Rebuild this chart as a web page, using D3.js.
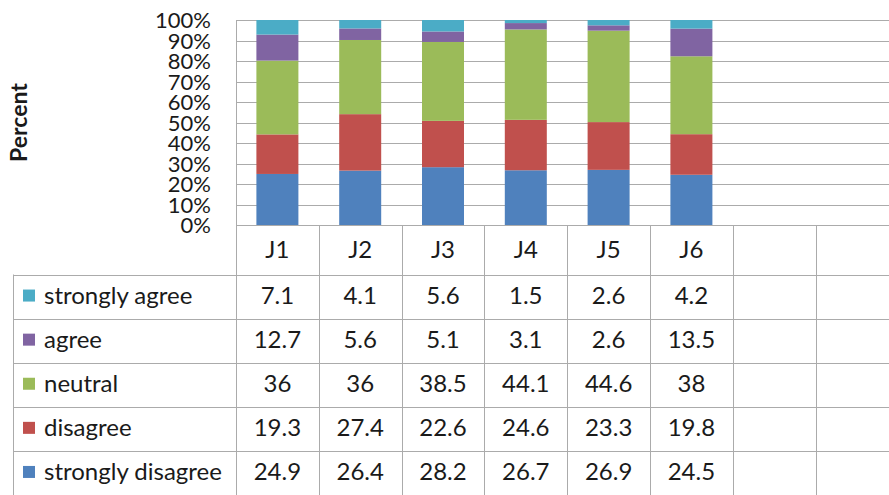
<!DOCTYPE html>
<html>
<head>
<meta charset="utf-8">
<script src="https://cdn.jsdelivr.net/npm/d3@7"></script>
<style>
  body { margin: 0; background: #fff; }
  svg { display: block; font-family: Lato, "Open Sans", sans-serif; }
</style>
</head>
<body>
<svg width="889" height="495"></svg>
<script>
const categories = ['J1', 'J2', 'J3', 'J4', 'J5', 'J6'];
const blankColumns = ['_7', '_8'];            // empty columns at the right
const seriesNames = ['strongly disagree', 'disagree', 'neutral', 'agree', 'strongly agree'];
const stronglyDisagree = [24.9, 26.4, 28.2, 26.7, 26.9, 24.5];
const disagree         = [19.3, 27.4, 22.6, 24.6, 23.3, 19.8];
const neutral          = [36, 36, 38.5, 44.1, 44.6, 38];
const agree            = [12.7, 5.6, 5.1, 3.1, 2.6, 13.5];
const stronglyAgree    = [7.1, 4.1, 5.6, 1.5, 2.6, 4.2];
const yTicks = [0, 0.1, 0.2, 0.3, 0.4, 0.5, 0.6, 0.7, 0.8, 0.9, 1];
const colors = ['#4F81BD', '#C0504D', '#9BBB59', '#8064A2', '#4BACC6'];

const seriesValues = [stronglyDisagree, disagree, neutral, agree, stronglyAgree];
const rows = categories.map((c, i) => {
  const r = { cat: c };
  seriesNames.forEach((s, k) => r[s] = seriesValues[k][i]);
  return r;
});

const svg = d3.select('svg');
const width = +svg.attr('width');
const height = +svg.attr('height');

const plot = { left: 236, top: 20, bottom: 225 };
const tableLeft = 13;
const headerBottom = 274.5;
const rowH = 44.1;
const gridColor = '#ababab';
const textColor = '#1a1a1a';

const x = d3.scaleBand()
  .domain(categories.concat(blankColumns))
  .range([plot.left, plot.left + 8 * 82.8]);

const y = d3.scaleLinear().domain([0, 1]).range([plot.bottom, plot.top]);

const stack = d3.stack().keys(seriesNames).offset(d3.stackOffsetExpand);
const stacked = stack(rows);

// gridlines
svg.append('g')
  .selectAll('line')
  .data(yTicks)
  .join('line')
    .attr('x1', plot.left).attr('x2', width)
    .attr('y1', d => Math.round(y(d)) + 0.5).attr('y2', d => Math.round(y(d)) + 0.5)
    .attr('stroke', gridColor);

// y axis labels
const yAxis = d3.axisLeft(y).tickValues(yTicks).tickFormat(d3.format('.0%')).tickSize(0).tickPadding(0);
const yAxisG = svg.append('g').attr('transform', `translate(${plot.left - 25},0)`).call(yAxis);
yAxisG.select('.domain').remove();
yAxisG.selectAll('text')
  .attr('font-family', 'Lato, sans-serif')
  .attr('font-size', 22)
  .attr('fill', textColor)
  .attr('dy', '0.36em');

svg.append('text')
  .attr('transform', `translate(27,${(plot.top + plot.bottom) / 2}) rotate(-90)`)
  .attr('text-anchor', 'middle')
  .attr('font-size', 23)
  .attr('font-weight', 'bold')
  .attr('fill', textColor)
  .text('Percent');

// bars
const barW = 42;
svg.append('g')
  .selectAll('g')
  .data(stacked)
  .join('g')
    .attr('fill', (d, i) => colors[i])
  .selectAll('rect')
  .data(d => d)
  .join('rect')
    .attr('x', d => x(d.data.cat) + (x.bandwidth() - barW) / 2)
    .attr('width', barW)
    .attr('y', d => y(d[1]))
    .attr('height', d => y(d[0]) - y(d[1]));

// table
const tbl = svg.append('g').attr('stroke', gridColor).attr('fill', 'none');
// left axis line through the table
tbl.append('line')
  .attr('x1', plot.left + 0.5).attr('x2', plot.left + 0.5)
  .attr('y1', plot.top).attr('y2', height);
// column separators
tbl.selectAll('.col')
  .data(x.domain().slice(1).concat(['end']))
  .join('line')
    .attr('class', 'col')
    .attr('x1', (d, i) => Math.round(plot.left + (i + 1) * x.step()) + 0.5)
    .attr('x2', (d, i) => Math.round(plot.left + (i + 1) * x.step()) + 0.5)
    .attr('y1', plot.bottom).attr('y2', height);
// bottom of header row and row separators
const rowLines = d3.range(seriesNames.length).map(i => headerBottom + i * rowH);
tbl.selectAll('.row')
  .data(rowLines)
  .join('line')
    .attr('class', 'row')
    .attr('x1', tableLeft).attr('x2', width)
    .attr('y1', d => Math.round(d) + 0.5).attr('y2', d => Math.round(d) + 0.5);
tbl.append('line')
  .attr('x1', tableLeft + 0.5).attr('x2', tableLeft + 0.5)
  .attr('y1', headerBottom).attr('y2', height);

// header labels
svg.append('g')
  .selectAll('text')
  .data(categories)
  .join('text')
    .attr('x', d => x(d) + x.bandwidth() / 2)
    .attr('y', (plot.bottom + headerBottom) / 2)
    .attr('dy', '0.36em')
    .attr('text-anchor', 'middle')
    .attr('font-size', 24)
    .attr('fill', textColor)
    .text(d => d);

// legend rows (top row is the last series)
const tableOrder = seriesNames.slice().reverse();
const rowG = svg.append('g')
  .selectAll('g')
  .data(tableOrder)
  .join('g')
    .attr('transform', (d, i) => `translate(0,${headerBottom + i * rowH + rowH / 2})`);

rowG.append('rect')
  .attr('x', 23).attr('y', -7)
  .attr('width', 12).attr('height', 12)
  .attr('fill', d => colors[seriesNames.indexOf(d)]);

rowG.append('text')
  .attr('x', 44)
  .attr('dy', '0.3em')
  .attr('font-size', 24)
  .attr('fill', textColor)
  .text(d => d);

rowG.selectAll('.val')
  .data(d => categories.map((c, i) => ({ cat: c, v: seriesValues[seriesNames.indexOf(d)][i] })))
  .join('text')
    .attr('class', 'val')
    .attr('x', d => x(d.cat) + x.bandwidth() / 2)
    .attr('dy', '0.3em')
    .attr('text-anchor', 'middle')
    .attr('font-size', 24)
    .attr('fill', textColor)
    .text(d => d.v);
</script>
</body>
</html>
